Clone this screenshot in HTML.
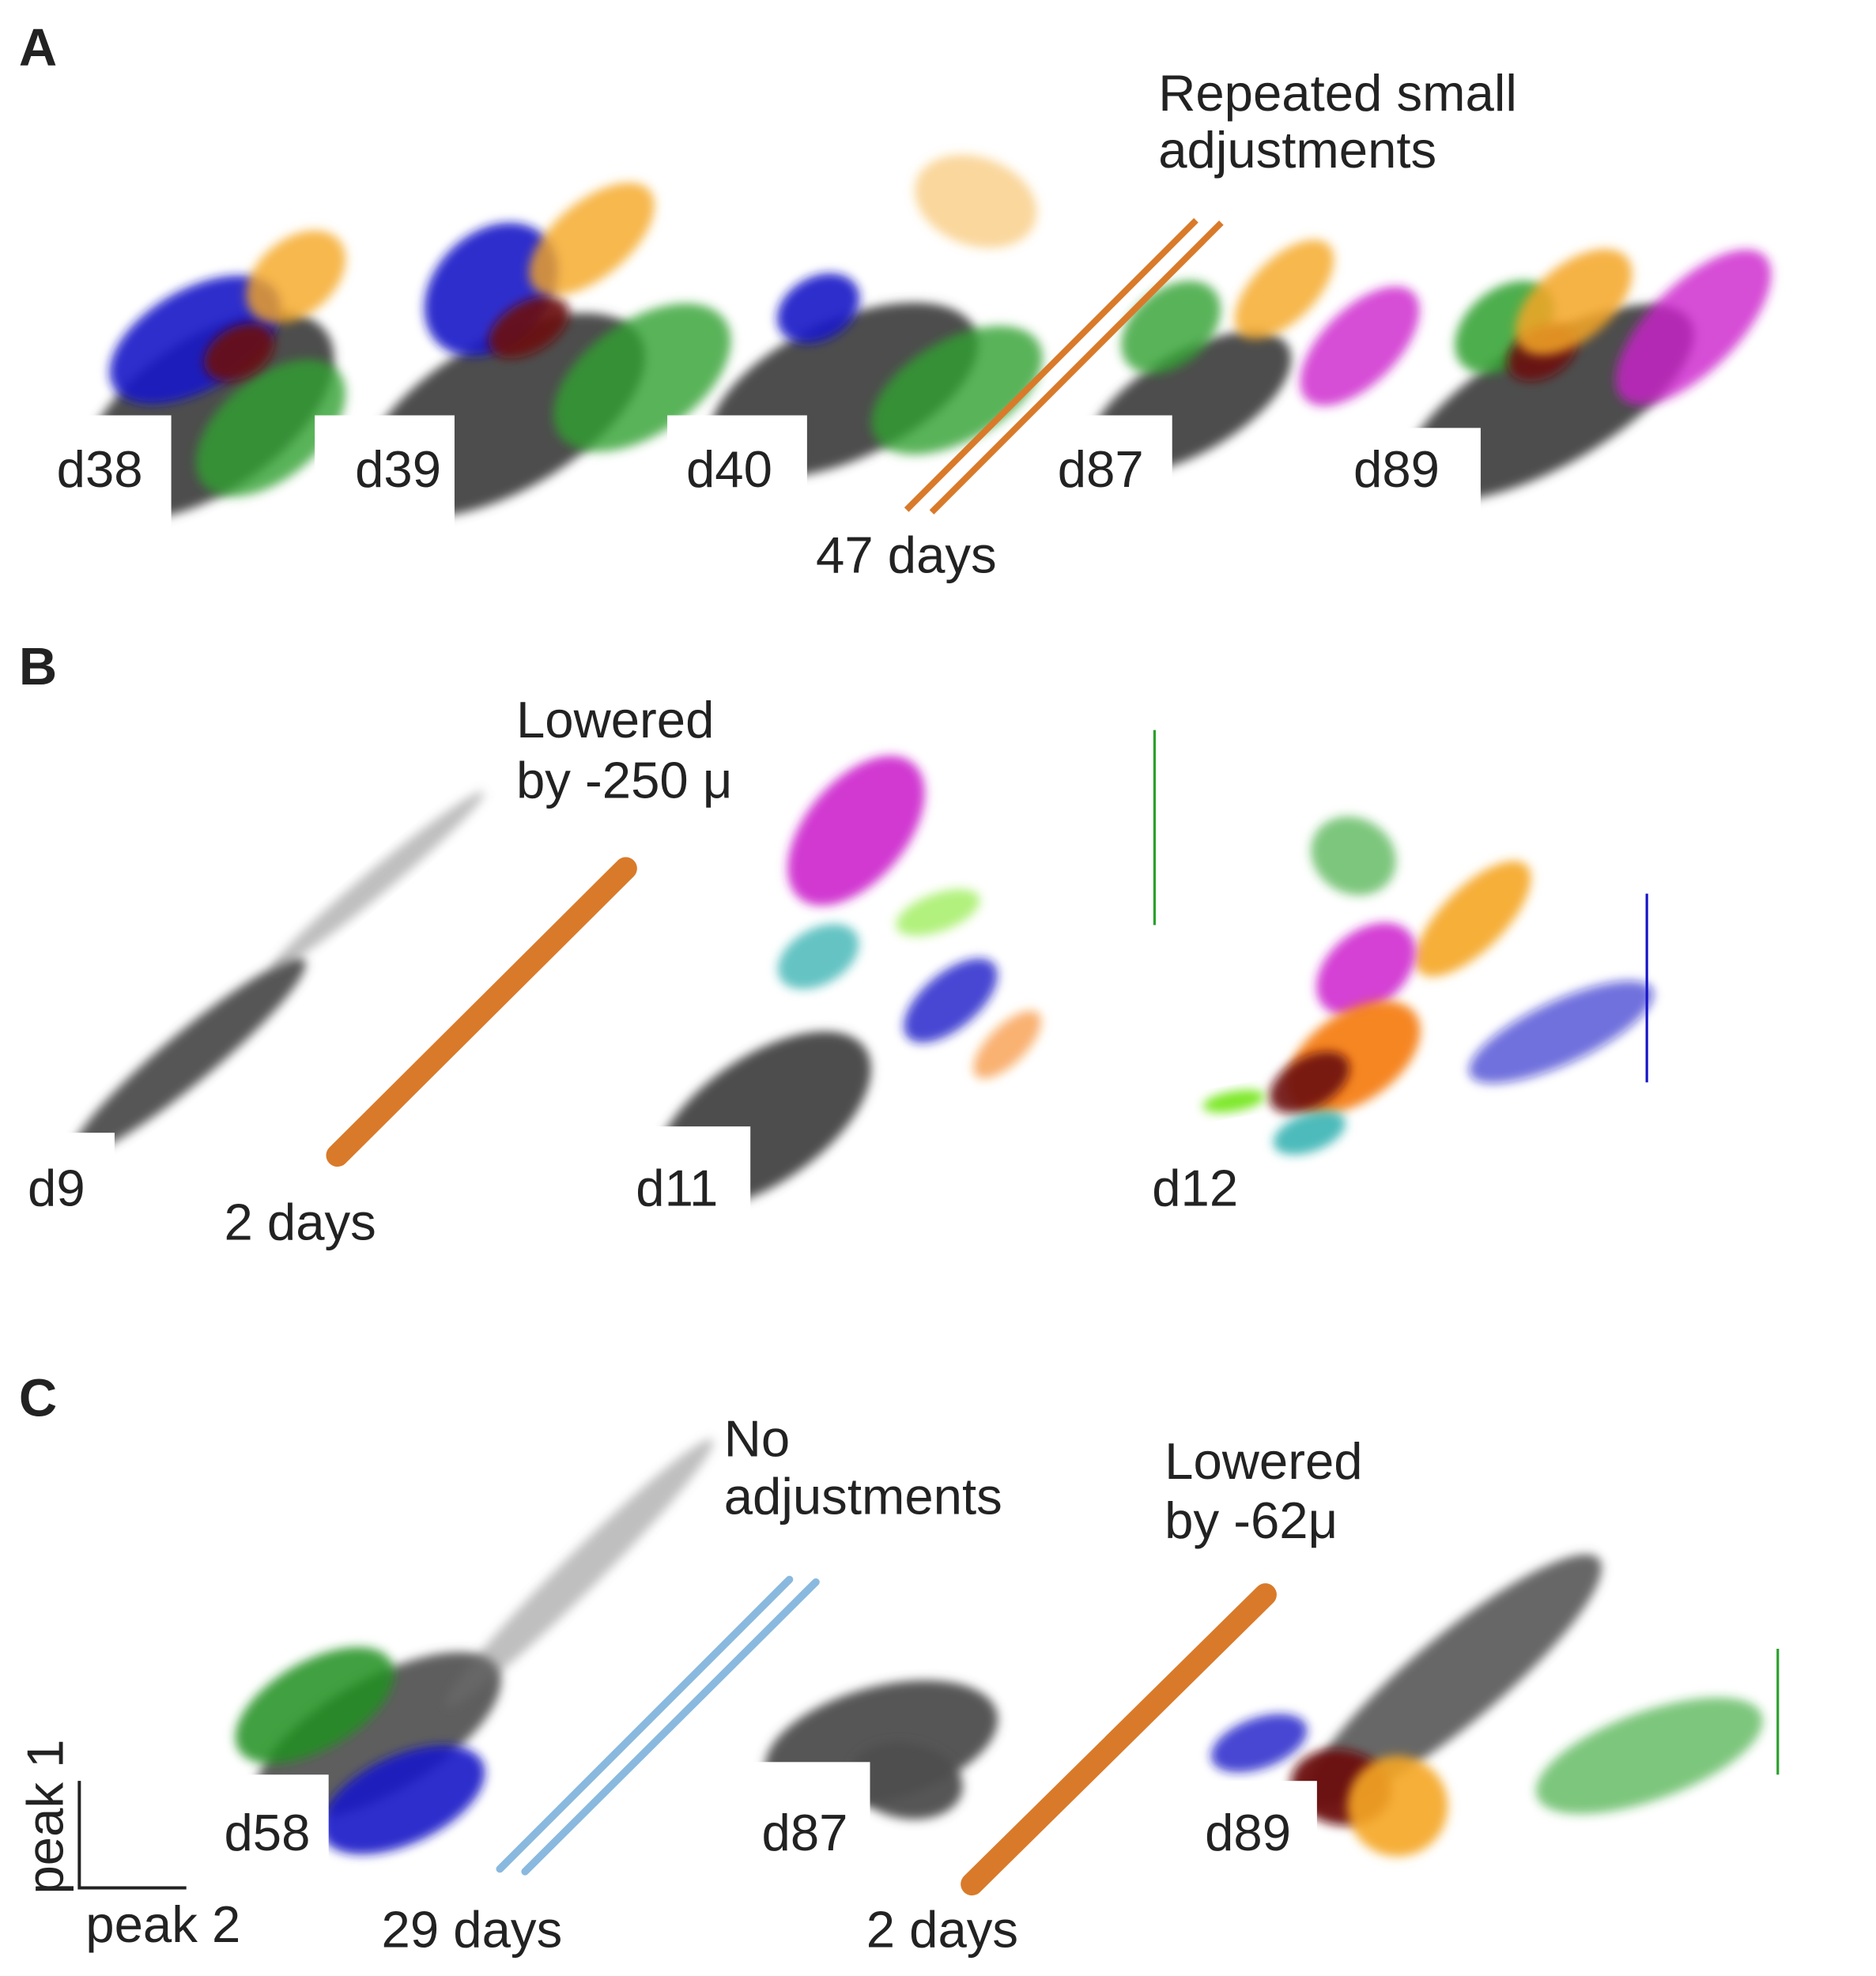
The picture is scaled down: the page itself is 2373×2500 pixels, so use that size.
<!DOCTYPE html>
<html><head><meta charset="utf-8"><style>
html,body{margin:0;padding:0;background:#fff;}
svg{display:block;}
text{font-family:"Liberation Sans",sans-serif;fill:#222;}
</style></head><body>
<svg id="fig" width="2373" height="2500" viewBox="0 0 1490 1570" preserveAspectRatio="none" xmlns="http://www.w3.org/2000/svg">
<defs><filter id="soft" x="-30%" y="-30%" width="160%" height="160%"><feGaussianBlur stdDeviation="4"/></filter></defs>
<g id="clusters"></g>
<g id="cutouts"></g>
<g id="lines">
<line x1="720" y1="405" x2="950" y2="175" stroke="#d97a2a" stroke-width="5"/>
<line x1="740" y1="407" x2="970" y2="177" stroke="#d97a2a" stroke-width="5"/>
<line x1="268" y1="918" x2="497" y2="690" stroke="#d97a2a" stroke-width="18" stroke-linecap="round"/>
<line x1="397" y1="1485" x2="627" y2="1255" stroke="#8ab9df" stroke-width="6" stroke-linecap="round"/>
<line x1="417" y1="1487" x2="648" y2="1257" stroke="#8ab9df" stroke-width="6" stroke-linecap="round"/>
<line x1="772" y1="1497" x2="1005" y2="1267" stroke="#d97a2a" stroke-width="18" stroke-linecap="round"/>
<line x1="917" y1="580" x2="917" y2="735" stroke="#2aa02a" stroke-width="2"/>
<line x1="1308" y1="710" x2="1308" y2="860" stroke="#1515c8" stroke-width="2"/>
<line x1="1412" y1="1310" x2="1412" y2="1410" stroke="#2aa02a" stroke-width="2"/>
<polyline points="63,1415 63,1500 148,1500" fill="none" stroke="#222" stroke-width="2.5"/>
</g>
<g id="labels" font-size="41">
<text x="15" y="52" font-weight="bold" font-size="42">A</text>
<text x="15" y="544" font-weight="bold" font-size="42">B</text>
<text x="15" y="1125" font-weight="bold" font-size="42">C</text>
<text x="45" y="387">d38</text>
<text x="282" y="387">d39</text>
<text x="545" y="387">d40</text>
<text x="840" y="387">d87</text>
<text x="1075" y="387">d89</text>
<text x="920" y="88">Repeated small</text>
<text x="920" y="133">adjustments</text>
<text x="648" y="455">47 days</text>
<text x="22" y="958">d9</text>
<text x="505" y="958">d11</text>
<text x="915" y="958">d12</text>
<text x="178" y="985">2 days</text>
<text x="410" y="586">Lowered</text>
<text x="410" y="634">by -250 μ</text>
<text x="178" y="1470">d58</text>
<text x="605" y="1470">d87</text>
<text x="957" y="1470">d89</text>
<text x="575" y="1157">No</text>
<text x="575" y="1203">adjustments</text>
<text x="925" y="1175">Lowered</text>
<text x="925" y="1222">by -62μ</text>
<text x="303" y="1547">29 days</text>
<text x="688" y="1547">2 days</text>
<text x="68" y="1543">peak 2</text>
<text transform="translate(50,1505) rotate(-90)">peak 1</text>
</g>
</svg>
<script>
// panel origins (axis corners) in figure coords
const panelNames = ['a-d38','a-d39','a-d40','a-d87','a-d89','b-d9','b-d11','b-d12','c-d58','c-d87','c-d89'];
const panelOx = [135,360,640,930,1175,90,595,1010,260,690,1045];
const panelOy = [330,330,330,330,340,900,895,880,1410,1400,1415];
const cutW = [110,110,110,110,110,90,100,0,110,110,110];
const cutH = [110,110,110,80,80,70,80,0,80,80,80];
// cluster data: panel index, peak2 centre, peak1 centre, spreads, orientation, colour
const clPanel = [0,0,0,0,0, 1,1,1,1,1, 2,2,2,2, 3,3,3,3, 4,4,4,4,4, 5,5, 6,6,6,6,6,6, 7,7,7,7,7,7,7,7, 8,8,8,8, 9,9, 10,10,10,10,10];
const clP2 = [30,80,20,55,100, 40,150,30,60,110, 30,120,10,135, 15,0,90,150, 55,20,50,75,170, 60,210, 10,85,55,150,160,205, 65,160,75,65,30,30,-30,230, 40,200,-10,60, 10,30, 110,-45,20,65,265];
const clP1 = [0,-10,60,50,110, 0,30,100,70,140, 20,20,85,170, 10,70,100,55, 20,80,60,100,80, 60,200, 5,235,135,170,100,65, 200,150,110,40,20,-20,5,60, 30,160,55,-20, 15,-15, 80,30,-5,-20,20];
const clSx = [115,70,75,30,45, 125,80,60,35,60, 115,75,35,35, 90,45,50,60, 130,45,30,55,80, 120,110, 100,70,35,35,45,35, 30,60,45,60,35,30,25,80, 110,150,70,70, 95,30, 150,40,30,40,95];
const clSy = [60,40,40,20,30, 60,45,45,20,30, 55,40,25,50, 40,30,25,30, 50,30,20,30,35, 20,10, 50,40,22,15,22,15, 35,25,30,35,20,15,8,25, 45,15,35,35, 45,45, 35,20,40,40,35];
const clAng = [35,40,30,30,40, 30,35,45,30,40, 25,30,30,70, 30,40,45,45, 30,40,30,40,45, 40,40, 35,50,30,20,40,45, 60,45,40,35,30,20,10,25, 30,45,30,25, 15,80, 40,20,80,45,20];
const clCol = ['#4e4e4e','#2ea02e','#1818c8','#6b1010','#f5a623', '#4e4e4e','#2ea02e','#1818c8','#6b1010','#f5a623', '#4e4e4e','#2ea02e','#1818c8','#f5a623', '#4e4e4e','#2ea02e','#f5a623','#cc22cc', '#4e4e4e','#2ea02e','#6b1010','#f5a623','#cc22cc', '#4e4e4e','#707070', '#4e4e4e','#cc22cc','#22aaaa','#7ee82a','#1818c8','#f57f17', '#2aa02a','#f5a623','#cc22cc','#f57f17','#6b1010','#22aaaa','#7ee82a','#1818c8', '#4e4e4e','#707070','#1f8f1f','#1818c8', '#4e4e4e','#4e4e4e', '#4e4e4e','#1818c8','#6b1010','#f5a623','#2aa02a'];
const clOpacity = [1,0.8,0.9,0.9,0.8, 1,0.8,0.9,0.9,0.8, 1,0.8,0.9,0.45, 1,0.8,0.8,0.8, 1,0.85,0.9,0.85,0.8, 0.95,0.45, 1,0.9,0.7,0.6,0.8,0.6, 0.6,0.9,0.85,0.95,0.9,0.8,1,0.6, 0.9,0.45,0.85,0.9, 0.95,0.95, 0.85,0.8,0.95,0.9,0.6];

const NS='http://www.w3.org/2000/svg';
function xPos(p,v){return panelOx[p]+v;}
function yPos(p,v){return panelOy[p]-v;}
const cg=document.getElementById('clusters');
for(let i=0;i<clPanel.length;i++){
  const p=clPanel[i];
  const e=document.createElementNS(NS,'ellipse');
  const cx=xPos(p,clP2[i]), cy=yPos(p,clP1[i]);
  e.setAttribute('cx',cx);e.setAttribute('cy',cy);
  e.setAttribute('rx',clSx[i]);e.setAttribute('ry',clSy[i]);
  e.setAttribute('transform','rotate('+(-clAng[i])+' '+cx+' '+cy+')');
  e.setAttribute('fill',clCol[i]);e.setAttribute('fill-opacity',clOpacity[i]);
  e.setAttribute('filter','url(#soft)');
  
  
  cg.appendChild(e);
}
const kg=document.getElementById('cutouts');
for(let p=0;p<panelNames.length;p++){
  if(!cutW[p])continue;
  const r=document.createElementNS(NS,'rect');
  r.setAttribute('x',panelOx[p]-cutW[p]);r.setAttribute('y',panelOy[p]);
  r.setAttribute('width',cutW[p]+1);r.setAttribute('height',cutH[p]);
  r.setAttribute('fill','#fff');
  
  
  kg.appendChild(r);
}
</script>
</body></html>
